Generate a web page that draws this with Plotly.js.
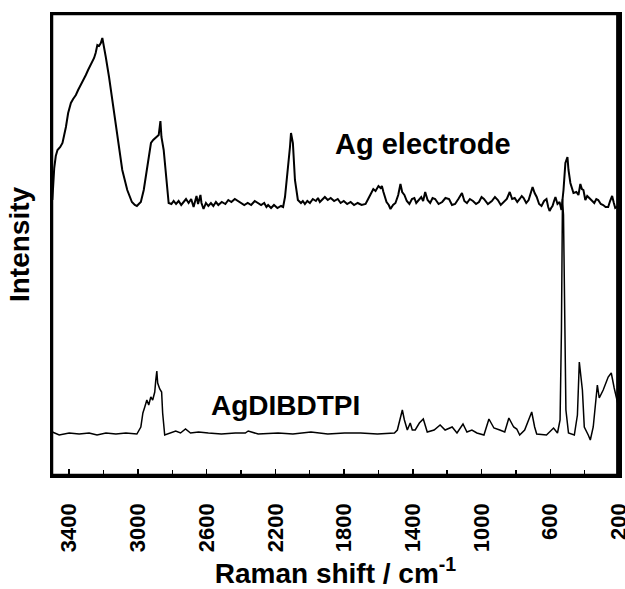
<!DOCTYPE html>
<html>
<head>
<meta charset="utf-8">
<script src="https://cdn.plot.ly/plotly-3.0.1.min.js"></script>
<style>
  html, body { margin: 0; padding: 0; background: #ffffff; overflow: hidden; }
  #chart { width: 625px; height: 589px; }
</style>
</head>
<body>
<div id="chart"></div>
<script>
// Raman spectra: bare Ag electrode (upper trace) and the AgDIBDTPI complex (lower trace)
const electrodeShift = [
  3498, 3487, 3478, 3468, 3452, 3439, 3429, 3419, 3406, 3390, 3377, 3361, 3348, 3332, 3319, 3303,
  3290, 3274, 3264, 3255, 3246, 3236, 3226, 3216, 3207, 3200, 3187, 3168, 3149, 3130, 3110, 3091,
  3062, 3035, 3018, 3006, 2995, 2983, 2966, 2948, 2931, 2924, 2911, 2898, 2888, 2879, 2869, 2863,
  2850, 2834,
  2821, 2805, 2792, 2778, 2763, 2748, 2734, 2720, 2705, 2690, 2676, 2666, 2659, 2650, 2642, 2636,
  2630, 2618, 2604, 2590, 2575, 2561, 2546, 2532, 2512, 2491, 2474, 2456, 2436, 2416, 2398, 2381,
  2361, 2341, 2320, 2300, 2283, 2265, 2252, 2242, 2225, 2208, 2188, 2167, 2155,
  2144, 2126, 2115, 2109, 2098, 2086,
  2069, 2051, 2040, 2028, 2014, 1999, 1982, 1964, 1952, 1941, 1926, 1912, 1895, 1878, 1858, 1837,
  1820, 1802, 1782, 1762, 1742, 1721, 1698, 1675, 1660,
  1646, 1630, 1617, 1600, 1588, 1580, 1571, 1560, 1553, 1540, 1530, 1515, 1501, 1485, 1472, 1462,
  1449, 1435, 1420, 1405, 1391, 1380, 1368, 1351, 1340, 1328, 1314, 1299, 1285, 1270, 1250, 1229,
  1210, 1189, 1172, 1154, 1135, 1114, 1100, 1085, 1068, 1050, 1032, 1015, 1000, 986, 963, 940,
  922, 905, 888, 871, 853, 836, 822, 807, 792, 778, 766, 755, 740, 726, 714, 703,
  691, 679, 665, 651, 636, 622, 612, 604, 595, 587, 578, 570, 558, 546, 535,
  523, 512, 500, 494, 483, 465, 448, 436, 425, 416, 407, 396, 385, 373,
  358, 344, 332, 321, 306, 292, 278, 263, 252, 240, 230, 222, 205
];
const electrodeIntensity = [
  275, 307, 319, 325, 328, 332, 340, 348, 362, 372, 376, 380, 385, 390, 395, 400,
  405, 410, 414, 417, 422, 430, 429, 432, 437, 429, 418, 398, 375, 352, 325, 305,
  285, 273, 270, 269, 271, 273, 285, 305, 325, 332, 335, 337, 339, 340, 354, 338,
  325, 295,
  272, 271, 274, 271, 274, 270, 273, 276, 272, 276, 268, 274, 279, 271, 276, 280,
  272, 266, 272, 269, 272, 269, 273, 270, 273, 271, 275, 273, 276, 274, 272, 270,
  272, 270, 274, 272, 270, 272, 268, 270, 267, 270, 267, 269, 268,
  278, 305, 328, 342, 332, 295,
  275, 272, 274, 271, 274, 272, 276, 274, 277, 273, 276, 278, 275, 277, 274, 276,
  272, 274, 271, 273, 270, 272, 270, 271, 276,
  280, 286, 284, 289, 287, 289, 283, 278, 273, 270, 266, 270, 272, 280, 291, 283,
  280, 274, 271, 276, 277, 272, 275, 278, 274, 283, 275, 272, 277, 276, 271, 273,
  277, 276, 270, 271, 276, 282, 274, 272, 276, 274, 271, 273, 278, 276, 271, 274,
  278, 275, 270, 273, 276, 283, 276, 277, 273, 276, 279, 277, 272, 275, 281, 288,
  282, 278, 271, 269, 274, 276, 268, 264, 267, 269, 274, 278, 271, 273, 265,
  285, 312, 318, 305, 292, 282, 283, 280, 291, 286, 285, 275, 279, 277,
  274, 272, 276, 275, 271, 270, 268, 268, 274, 279, 272, 267, 269
];

const complexShift = [
  3498, 3458, 3400, 3342, 3284, 3238, 3186, 3128, 3070, 3006, 2983, 2971, 2960, 2948, 2937, 2925,
  2914, 2902, 2896, 2890, 2885, 2873, 2862, 2856, 2844, 2815, 2780, 2752, 2723, 2694, 2647, 2590,
  2514, 2433, 2375, 2358, 2300, 2184, 2098, 1993, 1895, 1797, 1704, 1606, 1507, 1490, 1472, 1461,
  1449, 1432, 1415, 1403, 1386, 1362, 1339, 1316, 1276, 1241, 1212, 1189, 1171, 1143, 1108, 1085,
  1056, 1027, 986, 957, 928, 894, 865, 841, 813, 795, 778, 749, 708, 691, 679, 622,
  581, 558, 543, 535, 529, 523, 517, 509, 494, 460, 442, 431, 413, 402, 379, 367,
  350, 338, 326, 315, 292, 263, 245, 228, 205
];
const complexIntensity = [
  43, 40, 42, 41, 42, 40, 42, 41, 42, 41, 48, 62, 68, 75, 70, 78,
  75, 83, 95, 104, 92, 86, 83, 62, 40, 42, 44, 42, 46, 42, 43, 42,
  41, 42, 42, 44, 41, 42, 41, 43, 41, 42, 42, 41, 42, 45, 57, 65,
  55, 45, 52, 45, 45, 52, 56, 43, 45, 50, 45, 47, 48, 42, 51, 43,
  45, 42, 40, 56, 47, 45, 43, 57, 48, 46, 40, 45, 63, 48, 41, 40,
  47, 42, 55, 145, 276, 260, 155, 65, 42, 40, 60, 113, 85, 48, 40, 35,
  48, 72, 90, 77, 85, 98, 102, 87, 70
];

const seriesLabels = ['Ag electrode', 'AgDIBDTPI'];
const shiftTicks = [3400, 3000, 2600, 2200, 1800, 1400, 1000, 600, 200];
const shiftTickText = ['3400', '3000', '2600', '2200', '1800', '1400', '1000', '600', '200'];

const boldFont = 'Liberation Sans, Arial, Helvetica, sans-serif';

const traces = [
  {
    x: electrodeShift, y: electrodeIntensity, name: seriesLabels[0],
    type: 'scatter', mode: 'lines',
    line: { color: '#000000', width: 2 }
  },
  {
    x: complexShift, y: complexIntensity, name: seriesLabels[1],
    type: 'scatter', mode: 'lines',
    line: { color: '#000000', width: 1.5 }
  }
];

const layout = {
  width: 625,
  height: 589,
  margin: { l: 52, r: 6, t: 14, b: 114 },
  paper_bgcolor: '#ffffff',
  plot_bgcolor: '#ffffff',
  showlegend: false,
  xaxis: {
    range: [3500, 200],
    tickmode: 'array',
    tickvals: shiftTicks,
    ticktext: shiftTickText,
    tickangle: -90,
    ticks: 'inside',
    ticklen: 6,
    tickwidth: 1.5,
    tickcolor: '#000000',
    minor: { dtick: 200, tick0: 200, ticks: 'inside', ticklen: 5, tickwidth: 1.5, tickcolor: '#000000', showgrid: false },
    ticklabelstandoff: 17,
    ticklabeloverflow: 'allow',
    tickfont: { family: boldFont, size: 22, color: '#000000', weight: 'bold' },
    showline: true, mirror: true, linecolor: '#000000', linewidth: 2.5,
    showgrid: false, zeroline: false,
    title: {
      text: 'Raman shift / cm<sup>-1</sup>',
      font: { family: boldFont, size: 28, color: '#000000', weight: 'bold' },
      standoff: 25
    }
  },
  yaxis: {
    range: [0, 461],
    showticklabels: false,
    ticks: '',
    showline: true, mirror: true, linecolor: '#000000', linewidth: 2.5,
    showgrid: false, zeroline: false,
    title: {
      text: 'Intensity',
      font: { family: boldFont, size: 28, color: '#000000', weight: 'bold' },
      standoff: 12
    }
  },
  // plot frame drawn over the traces; the right side gets its own heavier stroke
  shapes: [
    {
      type: 'rect', xref: 'paper', yref: 'paper', x0: 0, x1: 1, y0: 0, y1: 1,
      line: { color: '#000000', width: 2.5 }, fillcolor: 'rgba(0,0,0,0)', layer: 'above'
    },
    {
      type: 'line', xref: 'paper', yref: 'paper', x0: 0.998, x1: 0.998, y0: 0, y1: 1,
      line: { color: '#000000', width: 3.5 }, layer: 'above'
    }
  ],
  annotations: [
    {
      x: 1340, y: 331, xref: 'x', yref: 'y', text: seriesLabels[0], showarrow: false,
      xanchor: 'center', yanchor: 'middle',
      font: { family: boldFont, size: 29, color: '#000000', weight: 'bold' }
    },
    {
      x: 2141, y: 70, xref: 'x', yref: 'y', text: seriesLabels[1], showarrow: false,
      xanchor: 'center', yanchor: 'middle',
      font: { family: boldFont, size: 28, color: '#000000', weight: 'bold' }
    }
  ]
};

Plotly.newPlot('chart', traces, layout, { displayModeBar: false, staticPlot: true });
</script>
</body>
</html>
